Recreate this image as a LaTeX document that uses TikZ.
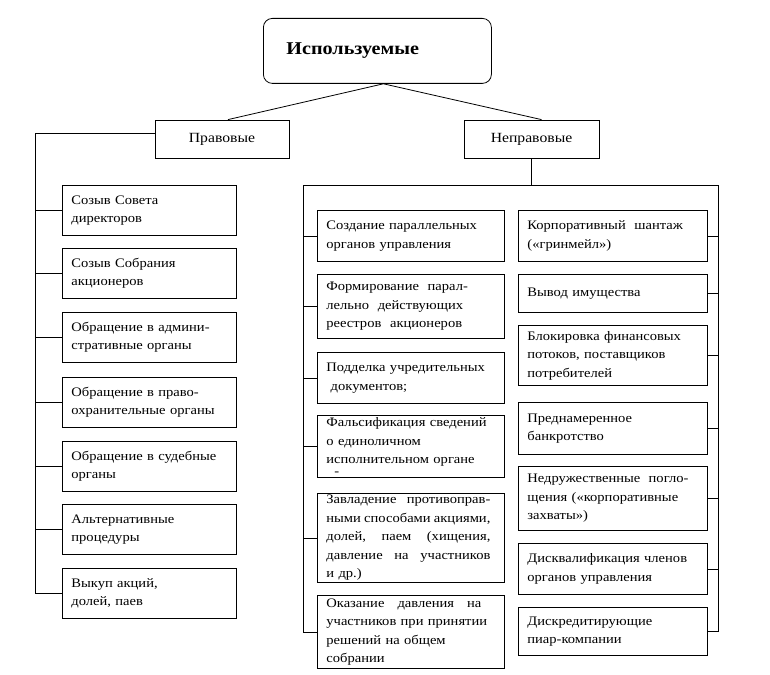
\documentclass[tikz,border=0pt]{standalone}
\usepackage{fontspec}
\setmainfont{Liberation Serif}[FakeStretch=1.12]
\usetikzlibrary{positioning}
\newcommand{\spreadline}[2]{\makebox[#1][l]{#2}}

\begin{document}
\begin{tikzpicture}[
        x=1pt, y=-1pt, % pixel grid, y downwards
        line width=0.8pt,
        box/.style={draw, anchor=north west, align=left, inner xsep=9pt, inner ysep=1pt,
          font=\fontsize{13}{18.5}\selectfont},
        lbox/.style={box, text width=156pt, minimum height=50pt},
        mbox/.style={box, text width=169pt},
        rbox/.style={box, text width=171pt},
        headbox/.style={draw, minimum width=134pt, minimum height=38pt,
          font=\fontsize{14}{16}\selectfont}
      ]
      \useasboundingbox (0,0) rectangle (770,674);

      % Top and second level
      \node (T) [draw, rounded corners=9pt, anchor=north west, minimum height=65pt,
        text width=182pt, inner xsep=23pt, align=left,
        font=\fontsize{18}{20}\selectfont\bfseries] at (263,18) {Используемые};
      \node (P) [headbox] at (222,139) {Правовые};
      \node (N) [headbox, minimum width=135pt] at (531.5,139) {Неправовые};

      \draw ([xshift=6pt]T.south) -- ([xshift=6pt]P.north);
      \draw ([xshift=6pt]T.south) -- ([xshift=10pt]N.north);

      % Legal measures
      \foreach \y/\txt [count=\i] in {
          185/{Созыв Совета\\директоров},
          248/{Созыв Собрания\\акционеров},
          312/{Обращение в админи-\\стративные органы},
          377/{Обращение в право-\\охранительные органы},
          441/{Обращение в судебные\\органы},
          504/{Альтернативные\\процедуры},
          568/{Выкуп акций,\\долей, паев}}
        \node (L\i) [lbox] at (62,\y) {\txt};

      % Non-legal measures, middle column
      \node (M1) [mbox, minimum height=51pt] at (317,210)
        {Создание параллельных\\органов управления};
      \node (M2) [mbox, minimum height=64pt] at (317,274)
        {Формирование\ \ парал-\\лельно\ \ действующих\\реестров\ \ акционеров};
      \node (M3) [mbox, minimum height=51pt] at (317,352)
        {Подделка учредительных\\\ документов;};
      \node (M4) [mbox, minimum height=62pt] at (317,415)
        {Фальсификация сведений\\о единоличном\\исполнительном органе\\[-7pt]\hspace{8pt}-};
      \node (M5) [mbox, minimum height=89pt] at (317,493)
        {\spreadline{164pt}{Завладение\hfill противоправ-}\\\spreadline{164pt}{ными\hfill способами\hfill акциями,}\\\spreadline{164pt}{долей,\hfill паем\hfill (хищения,}\\\spreadline{164pt}{давление\hfill на\hfill участников}\\и др.)};
      \node (M6) [mbox, minimum height=73pt] at (317,595)
        {\spreadline{155pt}{Оказание\hfill давления\hfill на}\\участников при принятии\\решений на общем\\собрании};

      % Non-legal measures, right column
      \node (R1) [rbox, minimum height=51pt] at (518,210)
        {Корпоративный\ \ шантаж\\(«гринмейл»)};
      \node (R2) [rbox, minimum height=38pt] at (518,274) {Вывод имущества};
      \node (R3) [rbox, minimum height=60pt] at (518,325)
        {Блокировка финансовых\\потоков, поставщиков\\потребителей};
      \node (R4) [rbox, minimum height=52pt] at (518,402)
        {Преднамеренное\\банкротство};
      \node (R5) [rbox, minimum height=64pt] at (518,466)
        {\spreadline{161pt}{Недружественные\hfill погло-}\\щения («корпоративные\\захваты»)};
      \node (R6) [rbox, minimum height=51pt] at (518,543)
        {Дисквалификация членов\\органов управления};
      \node (R7) [rbox, minimum height=48pt] at (518,607)
        {Дискредитирующие\\пиар-компании};

      % Connectors
      \coordinate (lbus) at (35,139);
      \coordinate (mbus) at (303,185);
      \coordinate (rbus) at (718,185);

      \draw ([yshift=6pt]P.west) -| (lbus |- L7.west) -- (L7.west);
      \foreach \i in {1,...,6}
        \draw (lbus |- L\i.west) -- (L\i.west);

      \draw (N.south) -- (N.south |- mbus);
      \draw (M6.west) -| (mbus) -- (rbus) |- (R7.east);
      \foreach \i in {1,...,5}
        \draw (mbus |- M\i.west) -- (M\i.west);
      \foreach \i in {1,...,6}
        \draw (rbus |- R\i.east) -- (R\i.east);

    \end{tikzpicture}
\end{document}
